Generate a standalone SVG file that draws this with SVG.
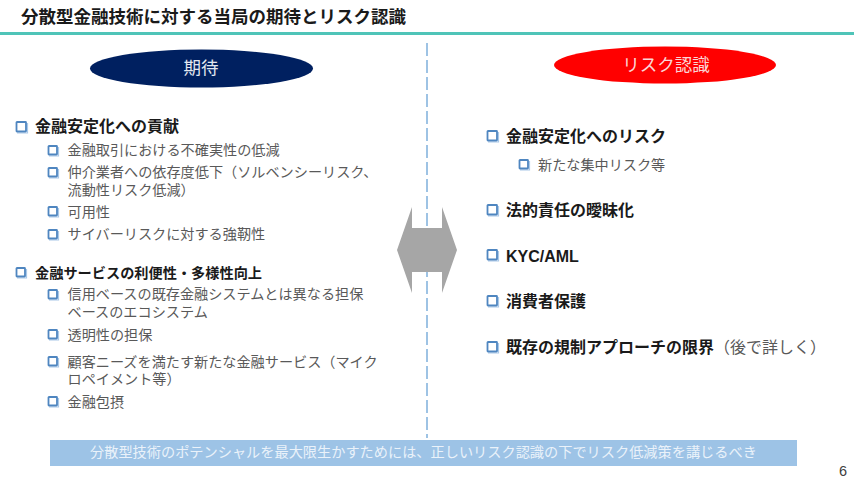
<svg xmlns="http://www.w3.org/2000/svg" xmlns:xlink="http://www.w3.org/1999/xlink" width="854" height="480" viewBox="0 0 854 480">
<style>
text{font-family:"Noto Sans CJK JP","Noto Sans",sans-serif}
.t{font-size:17.5px;font-weight:700;fill:#1a1a1a}
.h{font-size:17.5px;fill:#e4e8f0;text-anchor:middle}
.a{font-size:16px;font-weight:700;fill:#1a1a1a}
.a2{font-size:14.2px;font-weight:700;fill:#1a1a1a}
.b{font-size:14.15px;fill:#595959}
.g{font-size:16px;font-weight:400;fill:#595959}
.n{font-size:14.2px;fill:#eaf2fa}
.bu{fill:#fff;stroke:#4f86c0;stroke-width:1.8}
.bs{fill:none;stroke:#a9c8e8;stroke-width:1.2}
</style>
<defs>
<g id="big"><path class="bs" d="M1 11H11.5V1"/><rect class="bu" x="0.5" y="0" width="9.5" height="9.5" rx="0.5"/></g>
<g id="small"><path class="bs" d="M1 10H10.5V1"/><rect class="bu" x="0.5" y="0" width="8.5" height="8.5" rx="0.5"/></g>
</defs>
<rect width="854" height="480" fill="#fff"/>
<g id="header">
<text class="t" x="21" y="23">分散型金融技術に対する当局の期待とリスク認識</text>
<rect x="0" y="32" width="854" height="3" fill="#4fc4b8"/>
</g>
<g id="connectors">
<line x1="427" y1="43" x2="427" y2="438" stroke="#7fb0dc" stroke-width="1.5" stroke-dasharray="13 4"/>
</g>
<g id="double-arrow">
<polygon points="412,207 412,228 442,228 442,207 457,250 442,293 442,272 412,272 412,293 397,250" fill="#a6a6a6"/>
</g>
<g id="node-expect">
<ellipse cx="201.5" cy="68.5" rx="111.5" ry="19" fill="#002060"/>
<text class="h" x="201" y="74">期待</text>
</g>
<g id="node-risk">
<ellipse cx="665" cy="65" rx="111" ry="18.5" fill="#ff0000"/>
<text class="h" x="666" y="71" style="fill:#fbd5d5">リスク認識</text>
</g>
<g id="left-list">
<use xlink:href="#big" x="16" y="122"/>
<text class="a" x="35" y="132">金融安定化への貢献</text>
<use xlink:href="#small" x="48" y="146"/>
<text class="b" x="67.5" y="155">金融取引における不確実性の低減</text>
<use xlink:href="#small" x="48" y="168"/>
<text class="b" x="67.5" y="177">仲介業者への依存度低下（ソルベンシーリスク、</text>
<text class="b" x="67.5" y="195">流動性リスク低減）</text>
<use xlink:href="#small" x="48" y="207"/>
<text class="b" x="67.5" y="217">可用性</text>
<use xlink:href="#small" x="48" y="230"/>
<text class="b" x="67.5" y="239">サイバーリスクに対する強靭性</text>
<use xlink:href="#small" x="16" y="268"/>
<text class="a2" x="35" y="278">金融サービスの利便性・多様性向上</text>
<use xlink:href="#small" x="48" y="290"/>
<text class="b" x="67.5" y="299">信用ベースの既存金融システムとは異なる担保</text>
<text class="b" x="67.5" y="317">ベースのエコシステム</text>
<use xlink:href="#small" x="48" y="330"/>
<text class="b" x="67.5" y="340">透明性の担保</text>
<use xlink:href="#small" x="48" y="357"/>
<text class="b" x="67.5" y="367">顧客ニーズを満たす新たな金融サービス（マイク</text>
<text class="b" x="67.5" y="384">ロペイメント等）</text>
<use xlink:href="#small" x="48" y="397"/>
<text class="b" x="67.5" y="407">金融包摂</text>
</g>
<g id="right-list">
<use xlink:href="#big" x="487" y="131"/>
<text class="a" x="506" y="142">金融安定化へのリスク</text>
<use xlink:href="#small" x="519" y="160"/>
<text class="b" x="538" y="170">新たな集中リスク等</text>
<use xlink:href="#big" x="487" y="205"/>
<text class="a" x="506" y="216">法的責任の曖昧化</text>
<use xlink:href="#big" x="487" y="250"/>
<text class="a" x="506" y="262" style="font-family:'Liberation Sans','Noto Sans CJK JP',sans-serif">KYC/AML</text>
<use xlink:href="#big" x="487" y="296"/>
<text class="a" x="506" y="307">消費者保護</text>
<use xlink:href="#big" x="487" y="342"/>
<text class="a" x="506" y="353">既存の規制アプローチの限界<tspan class="g">（後で詳しく）</tspan></text>
</g>
<g id="banner">
<rect x="50" y="440" width="747" height="26" fill="#9dc3e6"/>
<text class="n" x="90" y="457">分散型技術のポテンシャルを最大限生かすためには、正しいリスク認識の下でリスク低減策を講じるべき</text>
</g>
<text x="843" y="476" font-size="14.5" fill="#404040" text-anchor="middle" style="font-family:'Liberation Sans',sans-serif">6</text>
</svg>
